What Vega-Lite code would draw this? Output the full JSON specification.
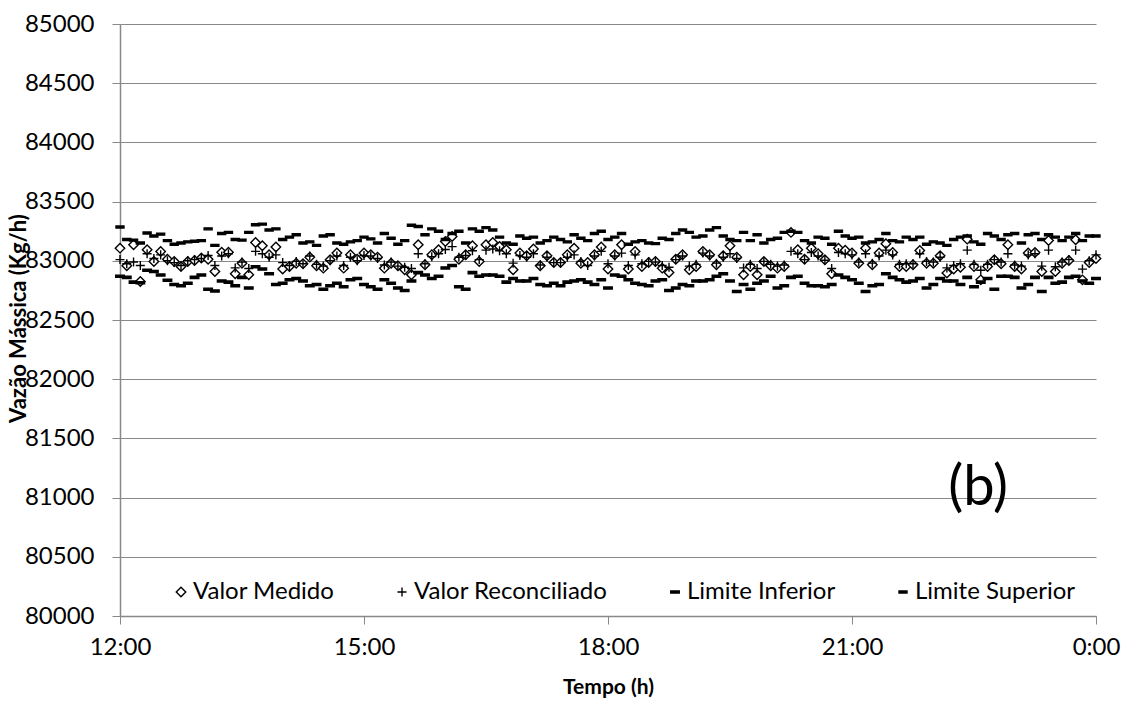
{
  "$schema": "https://vega.github.io/schema/vega-lite/v6.json",
  "width": 976,
  "height": 592,
  "autosize": {"type": "none"},
  "padding": {"left": 120, "top": 24, "right": 32, "bottom": 85},
  "background": "white",
  "config": {
    "font": "Lato",
    "view": {"stroke": null},
    "axis": {
      "labelFont": "Lato",
      "titleFont": "Lato",
      "labelColor": "black",
      "titleColor": "black",
      "labelFontSize": 24,
      "titleFontWeight": "bold",
      "domainColor": "#898989",
      "tickColor": "#898989",
      "gridColor": "#898989",
      "gridWidth": 1,
      "domainWidth": 1.5
    }
  },
  "layer": [
    {
      "data": {
        "values": [
          {"m": 0, "Valor Medido": 83107, "Valor Reconciliado": 83010, "Limite Inferior": 82870, "Limite Superior": 83285},
          {"m": 5, "Valor Medido": 82958, "Valor Reconciliado": 82975, "Limite Inferior": 82860, "Limite Superior": 83180},
          {"m": 10, "Valor Medido": 83135, "Valor Reconciliado": 82990, "Limite Inferior": 82820, "Limite Superior": 83175},
          {"m": 15, "Valor Medido": 82825, "Valor Reconciliado": 82960, "Limite Inferior": 82815, "Limite Superior": 83150},
          {"m": 20, "Valor Medido": 83093, "Valor Reconciliado": 83060, "Limite Inferior": 82920, "Limite Superior": 83235},
          {"m": 25, "Valor Medido": 82994, "Valor Reconciliado": 83020, "Limite Inferior": 82910, "Limite Superior": 83210},
          {"m": 30, "Valor Medido": 83079, "Valor Reconciliado": 83050, "Limite Inferior": 82880, "Limite Superior": 83225},
          {"m": 35, "Valor Medido": 83014, "Valor Reconciliado": 83000, "Limite Inferior": 82835, "Limite Superior": 83170},
          {"m": 40, "Valor Medido": 82994, "Valor Reconciliado": 82985, "Limite Inferior": 82800, "Limite Superior": 83140},
          {"m": 45, "Valor Medido": 82952, "Valor Reconciliado": 82960, "Limite Inferior": 82790, "Limite Superior": 83150},
          {"m": 50, "Valor Medido": 82994, "Valor Reconciliado": 83000, "Limite Inferior": 82810, "Limite Superior": 83160},
          {"m": 55, "Valor Medido": 83003, "Valor Reconciliado": 83010, "Limite Inferior": 82860, "Limite Superior": 83165},
          {"m": 60, "Valor Medido": 83023, "Valor Reconciliado": 83020, "Limite Inferior": 82880, "Limite Superior": 83170},
          {"m": 65, "Valor Medido": 83014, "Valor Reconciliado": 83045, "Limite Inferior": 82760, "Limite Superior": 83270},
          {"m": 70, "Valor Medido": 82910, "Valor Reconciliado": 82960, "Limite Inferior": 82745, "Limite Superior": 83130},
          {"m": 75, "Valor Medido": 83073, "Valor Reconciliado": 83040, "Limite Inferior": 82830, "Limite Superior": 83230},
          {"m": 80, "Valor Medido": 83073, "Valor Reconciliado": 83060, "Limite Inferior": 82820, "Limite Superior": 83240},
          {"m": 85, "Valor Medido": 82890, "Valor Reconciliado": 82940, "Limite Inferior": 82790, "Limite Superior": 83180},
          {"m": 90, "Valor Medido": 82980, "Valor Reconciliado": 82990, "Limite Inferior": 82860, "Limite Superior": 83175},
          {"m": 95, "Valor Medido": 82882, "Valor Reconciliado": 82935, "Limite Inferior": 82770, "Limite Superior": 83240},
          {"m": 100, "Valor Medido": 83155, "Valor Reconciliado": 83080, "Limite Inferior": 82950, "Limite Superior": 83305},
          {"m": 105, "Valor Medido": 83127, "Valor Reconciliado": 83060, "Limite Inferior": 82930, "Limite Superior": 83310},
          {"m": 110, "Valor Medido": 83051, "Valor Reconciliado": 83030, "Limite Inferior": 82890, "Limite Superior": 83260},
          {"m": 115, "Valor Medido": 83116, "Valor Reconciliado": 83050, "Limite Inferior": 82800, "Limite Superior": 83270},
          {"m": 120, "Valor Medido": 82930, "Valor Reconciliado": 82985, "Limite Inferior": 82810, "Limite Superior": 83180},
          {"m": 125, "Valor Medido": 82952, "Valor Reconciliado": 82960, "Limite Inferior": 82840, "Limite Superior": 83200},
          {"m": 130, "Valor Medido": 82980, "Valor Reconciliado": 82995, "Limite Inferior": 82850, "Limite Superior": 83220},
          {"m": 135, "Valor Medido": 82975, "Valor Reconciliado": 82975, "Limite Inferior": 82830, "Limite Superior": 83150},
          {"m": 140, "Valor Medido": 83031, "Valor Reconciliado": 83040, "Limite Inferior": 82790, "Limite Superior": 83160},
          {"m": 145, "Valor Medido": 82958, "Valor Reconciliado": 82970, "Limite Inferior": 82800, "Limite Superior": 83130},
          {"m": 150, "Valor Medido": 82938, "Valor Reconciliado": 82955, "Limite Inferior": 82760, "Limite Superior": 83210},
          {"m": 155, "Valor Medido": 83008, "Valor Reconciliado": 83000, "Limite Inferior": 82790, "Limite Superior": 83220},
          {"m": 160, "Valor Medido": 83065, "Valor Reconciliado": 83040, "Limite Inferior": 82810, "Limite Superior": 83150},
          {"m": 165, "Valor Medido": 82938, "Valor Reconciliado": 82960, "Limite Inferior": 82780, "Limite Superior": 83140},
          {"m": 170, "Valor Medido": 83051, "Valor Reconciliado": 83030, "Limite Inferior": 82840, "Limite Superior": 83160},
          {"m": 175, "Valor Medido": 83014, "Valor Reconciliado": 83000, "Limite Inferior": 82850, "Limite Superior": 83170},
          {"m": 180, "Valor Medido": 83065, "Valor Reconciliado": 83045, "Limite Inferior": 82800, "Limite Superior": 83200},
          {"m": 185, "Valor Medido": 83051, "Valor Reconciliado": 83040, "Limite Inferior": 82780, "Limite Superior": 83185},
          {"m": 190, "Valor Medido": 83031, "Valor Reconciliado": 83020, "Limite Inferior": 82760, "Limite Superior": 83150},
          {"m": 195, "Valor Medido": 82938, "Valor Reconciliado": 82965, "Limite Inferior": 82840, "Limite Superior": 83230},
          {"m": 200, "Valor Medido": 82980, "Valor Reconciliado": 82990, "Limite Inferior": 82810, "Limite Superior": 83190},
          {"m": 205, "Valor Medido": 82958, "Valor Reconciliado": 82955, "Limite Inferior": 82770, "Limite Superior": 83140},
          {"m": 210, "Valor Medido": 82924, "Valor Reconciliado": 82945, "Limite Inferior": 82750, "Limite Superior": 83170},
          {"m": 215, "Valor Medido": 82882, "Valor Reconciliado": 82935, "Limite Inferior": 82830, "Limite Superior": 83300},
          {"m": 220, "Valor Medido": 83135, "Valor Reconciliado": 83060, "Limite Inferior": 82900, "Limite Superior": 83290},
          {"m": 225, "Valor Medido": 82966, "Valor Reconciliado": 82975, "Limite Inferior": 82880, "Limite Superior": 83220},
          {"m": 230, "Valor Medido": 83051, "Valor Reconciliado": 83035, "Limite Inferior": 82850, "Limite Superior": 83270},
          {"m": 235, "Valor Medido": 83093, "Valor Reconciliado": 83060, "Limite Inferior": 82870, "Limite Superior": 83250},
          {"m": 240, "Valor Medido": 83163, "Valor Reconciliado": 83095, "Limite Inferior": 82940, "Limite Superior": 83180},
          {"m": 245, "Valor Medido": 83205, "Valor Reconciliado": 83120, "Limite Inferior": 82960, "Limite Superior": 83230},
          {"m": 250, "Valor Medido": 83014, "Valor Reconciliado": 83030, "Limite Inferior": 82780, "Limite Superior": 83250},
          {"m": 255, "Valor Medido": 83051, "Valor Reconciliado": 83045, "Limite Inferior": 82760, "Limite Superior": 83150},
          {"m": 260, "Valor Medido": 83127, "Valor Reconciliado": 83085, "Limite Inferior": 82900, "Limite Superior": 83270},
          {"m": 265, "Valor Medido": 82994, "Valor Reconciliado": 83010, "Limite Inferior": 82870, "Limite Superior": 83250},
          {"m": 270, "Valor Medido": 83135, "Valor Reconciliado": 83090, "Limite Inferior": 82880, "Limite Superior": 83280},
          {"m": 275, "Valor Medido": 83155, "Valor Reconciliado": 83100, "Limite Inferior": 82880, "Limite Superior": 83260},
          {"m": 280, "Valor Medido": 83121, "Valor Reconciliado": 83085, "Limite Inferior": 82870, "Limite Superior": 83200},
          {"m": 285, "Valor Medido": 83093, "Valor Reconciliado": 83060, "Limite Inferior": 82820, "Limite Superior": 83150},
          {"m": 290, "Valor Medido": 82924, "Valor Reconciliado": 82980, "Limite Inferior": 82850, "Limite Superior": 83140},
          {"m": 295, "Valor Medido": 83065, "Valor Reconciliado": 83045, "Limite Inferior": 82830, "Limite Superior": 83210},
          {"m": 300, "Valor Medido": 83042, "Valor Reconciliado": 83030, "Limite Inferior": 82830, "Limite Superior": 83190},
          {"m": 305, "Valor Medido": 83099, "Valor Reconciliado": 83060, "Limite Inferior": 82850, "Limite Superior": 83200},
          {"m": 310, "Valor Medido": 82958, "Valor Reconciliado": 82965, "Limite Inferior": 82800, "Limite Superior": 83150},
          {"m": 315, "Valor Medido": 83042, "Valor Reconciliado": 83030, "Limite Inferior": 82790, "Limite Superior": 83170},
          {"m": 320, "Valor Medido": 82986, "Valor Reconciliado": 82985, "Limite Inferior": 82810, "Limite Superior": 83200},
          {"m": 325, "Valor Medido": 82986, "Valor Reconciliado": 82985, "Limite Inferior": 82790, "Limite Superior": 83180},
          {"m": 330, "Valor Medido": 83051, "Valor Reconciliado": 83030, "Limite Inferior": 82820, "Limite Superior": 83160},
          {"m": 335, "Valor Medido": 83107, "Valor Reconciliado": 83050, "Limite Inferior": 82830, "Limite Superior": 83220},
          {"m": 340, "Valor Medido": 82980, "Valor Reconciliado": 82995, "Limite Inferior": 82840, "Limite Superior": 83190},
          {"m": 345, "Valor Medido": 82986, "Valor Reconciliado": 82960, "Limite Inferior": 82820, "Limite Superior": 83170},
          {"m": 350, "Valor Medido": 83051, "Valor Reconciliado": 83040, "Limite Inferior": 82800, "Limite Superior": 83230},
          {"m": 355, "Valor Medido": 83116, "Valor Reconciliado": 83080, "Limite Inferior": 82840, "Limite Superior": 83250},
          {"m": 360, "Valor Medido": 82930, "Valor Reconciliado": 82975, "Limite Inferior": 82770, "Limite Superior": 83180},
          {"m": 365, "Valor Medido": 83051, "Valor Reconciliado": 83040, "Limite Inferior": 82880, "Limite Superior": 83200},
          {"m": 370, "Valor Medido": 83135, "Valor Reconciliado": 83065, "Limite Inferior": 82870, "Limite Superior": 83230},
          {"m": 375, "Valor Medido": 82930, "Valor Reconciliado": 82960, "Limite Inferior": 82840, "Limite Superior": 83140},
          {"m": 380, "Valor Medido": 83079, "Valor Reconciliado": 83050, "Limite Inferior": 82810, "Limite Superior": 83160},
          {"m": 385, "Valor Medido": 82952, "Valor Reconciliado": 82975, "Limite Inferior": 82800, "Limite Superior": 83170},
          {"m": 390, "Valor Medido": 82986, "Valor Reconciliado": 82995, "Limite Inferior": 82790, "Limite Superior": 83150},
          {"m": 395, "Valor Medido": 82994, "Valor Reconciliado": 82990, "Limite Inferior": 82830, "Limite Superior": 83145},
          {"m": 400, "Valor Medido": 82938, "Valor Reconciliado": 82960, "Limite Inferior": 82840, "Limite Superior": 83190},
          {"m": 405, "Valor Medido": 82901, "Valor Reconciliado": 82945, "Limite Inferior": 82750, "Limite Superior": 83180},
          {"m": 410, "Valor Medido": 83014, "Valor Reconciliado": 83010, "Limite Inferior": 82770, "Limite Superior": 83230},
          {"m": 415, "Valor Medido": 83051, "Valor Reconciliado": 83040, "Limite Inferior": 82800, "Limite Superior": 83260},
          {"m": 420, "Valor Medido": 82924, "Valor Reconciliado": 82955, "Limite Inferior": 82790, "Limite Superior": 83240},
          {"m": 425, "Valor Medido": 82952, "Valor Reconciliado": 82970, "Limite Inferior": 82830, "Limite Superior": 83200},
          {"m": 430, "Valor Medido": 83079, "Valor Reconciliado": 83065, "Limite Inferior": 82830, "Limite Superior": 83210},
          {"m": 435, "Valor Medido": 83051, "Valor Reconciliado": 83040, "Limite Inferior": 82840, "Limite Superior": 83260},
          {"m": 440, "Valor Medido": 82966, "Valor Reconciliado": 82980, "Limite Inferior": 82870, "Limite Superior": 83280},
          {"m": 445, "Valor Medido": 83042, "Valor Reconciliado": 83030, "Limite Inferior": 82890, "Limite Superior": 83210},
          {"m": 450, "Valor Medido": 83127, "Valor Reconciliado": 83060, "Limite Inferior": 82830, "Limite Superior": 83180},
          {"m": 455, "Valor Medido": 83031, "Valor Reconciliado": 83020, "Limite Inferior": 82740, "Limite Superior": 83170},
          {"m": 460, "Valor Medido": 82882, "Valor Reconciliado": 82940, "Limite Inferior": 82800, "Limite Superior": 83240},
          {"m": 465, "Valor Medido": 82952, "Valor Reconciliado": 82970, "Limite Inferior": 82760, "Limite Superior": 83170},
          {"m": 470, "Valor Medido": 82882, "Valor Reconciliado": 82935, "Limite Inferior": 82810, "Limite Superior": 83220},
          {"m": 475, "Valor Medido": 82994, "Valor Reconciliado": 82995, "Limite Inferior": 82830, "Limite Superior": 83150},
          {"m": 480, "Valor Medido": 82958, "Valor Reconciliado": 82970, "Limite Inferior": 82870, "Limite Superior": 83180},
          {"m": 485, "Valor Medido": 82938, "Valor Reconciliado": 82955, "Limite Inferior": 82770, "Limite Superior": 83190},
          {"m": 490, "Valor Medido": 82952, "Valor Reconciliado": 82965, "Limite Inferior": 82790, "Limite Superior": 83240},
          {"m": 495, "Valor Medido": 83240, "Valor Reconciliado": 83080, "Limite Inferior": 82860, "Limite Superior": 83250},
          {"m": 500, "Valor Medido": 83093, "Valor Reconciliado": 83060, "Limite Inferior": 82870, "Limite Superior": 83240},
          {"m": 505, "Valor Medido": 83014, "Valor Reconciliado": 83010, "Limite Inferior": 82810, "Limite Superior": 83170},
          {"m": 510, "Valor Medido": 83107, "Valor Reconciliado": 83070, "Limite Inferior": 82790, "Limite Superior": 83150},
          {"m": 515, "Valor Medido": 83059, "Valor Reconciliado": 83040, "Limite Inferior": 82790, "Limite Superior": 83200},
          {"m": 520, "Valor Medido": 83008, "Valor Reconciliado": 83005, "Limite Inferior": 82780, "Limite Superior": 83190},
          {"m": 525, "Valor Medido": 82890, "Valor Reconciliado": 82935, "Limite Inferior": 82800, "Limite Superior": 83140},
          {"m": 530, "Valor Medido": 83107, "Valor Reconciliado": 83070, "Limite Inferior": 82880, "Limite Superior": 83250},
          {"m": 535, "Valor Medido": 83090, "Valor Reconciliado": 83060, "Limite Inferior": 82860, "Limite Superior": 83210},
          {"m": 540, "Valor Medido": 83065, "Valor Reconciliado": 83050, "Limite Inferior": 82840, "Limite Superior": 83190},
          {"m": 545, "Valor Medido": 82980, "Valor Reconciliado": 82990, "Limite Inferior": 82810, "Limite Superior": 83200},
          {"m": 550, "Valor Medido": 83107, "Valor Reconciliado": 83060, "Limite Inferior": 82740, "Limite Superior": 83150},
          {"m": 555, "Valor Medido": 82966, "Valor Reconciliado": 82980, "Limite Inferior": 82790, "Limite Superior": 83160},
          {"m": 560, "Valor Medido": 83065, "Valor Reconciliado": 83040, "Limite Inferior": 82800, "Limite Superior": 83180},
          {"m": 565, "Valor Medido": 83144, "Valor Reconciliado": 83090, "Limite Inferior": 82890, "Limite Superior": 83230},
          {"m": 570, "Valor Medido": 83070, "Valor Reconciliado": 83050, "Limite Inferior": 82860, "Limite Superior": 83170},
          {"m": 575, "Valor Medido": 82952, "Valor Reconciliado": 82970, "Limite Inferior": 82840, "Limite Superior": 83160},
          {"m": 580, "Valor Medido": 82952, "Valor Reconciliado": 82975, "Limite Inferior": 82820, "Limite Superior": 83200},
          {"m": 585, "Valor Medido": 82966, "Valor Reconciliado": 82975, "Limite Inferior": 82830, "Limite Superior": 83180},
          {"m": 590, "Valor Medido": 83087, "Valor Reconciliado": 83060, "Limite Inferior": 82850, "Limite Superior": 83200},
          {"m": 595, "Valor Medido": 82980, "Valor Reconciliado": 82995, "Limite Inferior": 82770, "Limite Superior": 83140},
          {"m": 600, "Valor Medido": 82980, "Valor Reconciliado": 82990, "Limite Inferior": 82800, "Limite Superior": 83160},
          {"m": 605, "Valor Medido": 83042, "Valor Reconciliado": 83030, "Limite Inferior": 82850, "Limite Superior": 83150},
          {"m": 610, "Valor Medido": 82896, "Valor Reconciliado": 82940, "Limite Inferior": 82830, "Limite Superior": 83130},
          {"m": 615, "Valor Medido": 82930, "Valor Reconciliado": 82960, "Limite Inferior": 82830, "Limite Superior": 83180},
          {"m": 620, "Valor Medido": 82946, "Valor Reconciliado": 82975, "Limite Inferior": 82800, "Limite Superior": 83200},
          {"m": 625, "Valor Medido": 83183, "Valor Reconciliado": 83090, "Limite Inferior": 82860, "Limite Superior": 83210},
          {"m": 630, "Valor Medido": 82952, "Valor Reconciliado": 82970, "Limite Inferior": 82780, "Limite Superior": 83160},
          {"m": 635, "Valor Medido": 82839, "Valor Reconciliado": 82920, "Limite Inferior": 82820, "Limite Superior": 83140},
          {"m": 640, "Valor Medido": 82952, "Valor Reconciliado": 82970, "Limite Inferior": 82850, "Limite Superior": 83230},
          {"m": 645, "Valor Medido": 83008, "Valor Reconciliado": 83010, "Limite Inferior": 82760, "Limite Superior": 83210},
          {"m": 650, "Valor Medido": 82975, "Valor Reconciliado": 82990, "Limite Inferior": 82870, "Limite Superior": 83180},
          {"m": 655, "Valor Medido": 83135, "Valor Reconciliado": 83060, "Limite Inferior": 82870, "Limite Superior": 83220},
          {"m": 660, "Valor Medido": 82952, "Valor Reconciliado": 82965, "Limite Inferior": 82860, "Limite Superior": 83230},
          {"m": 665, "Valor Medido": 82930, "Valor Reconciliado": 82955, "Limite Inferior": 82770, "Limite Superior": 83150},
          {"m": 670, "Valor Medido": 83065, "Valor Reconciliado": 83050, "Limite Inferior": 82800, "Limite Superior": 83220},
          {"m": 675, "Valor Medido": 83070, "Valor Reconciliado": 83060, "Limite Inferior": 82860, "Limite Superior": 83230},
          {"m": 680, "Valor Medido": 82910, "Valor Reconciliado": 82955, "Limite Inferior": 82740, "Limite Superior": 83180},
          {"m": 685, "Valor Medido": 83172, "Valor Reconciliado": 83090, "Limite Inferior": 82860, "Limite Superior": 83220},
          {"m": 690, "Valor Medido": 82910, "Valor Reconciliado": 82950, "Limite Inferior": 82810, "Limite Superior": 83200},
          {"m": 695, "Valor Medido": 82980, "Valor Reconciliado": 82990, "Limite Inferior": 82820, "Limite Superior": 83170},
          {"m": 700, "Valor Medido": 83003, "Valor Reconciliado": 83010, "Limite Inferior": 82860, "Limite Superior": 83200},
          {"m": 705, "Valor Medido": 83177, "Valor Reconciliado": 83090, "Limite Inferior": 82870, "Limite Superior": 83230},
          {"m": 710, "Valor Medido": 82839, "Valor Reconciliado": 82930, "Limite Inferior": 82830, "Limite Superior": 83170},
          {"m": 715, "Valor Medido": 82986, "Valor Reconciliado": 83000, "Limite Inferior": 82810, "Limite Superior": 83210},
          {"m": 720, "Valor Medido": 83020, "Valor Reconciliado": 83050, "Limite Inferior": 82850, "Limite Superior": 83210}
        ]
      },
      "transform": [
        {"fold": ["Valor Medido", "Valor Reconciliado", "Limite Inferior", "Limite Superior"], "as": ["serie", "vazao"]}
      ],
      "mark": {"type": "point", "filled": true, "stroke": "black", "opacity": 1},
      "encoding": {
        "x": {
          "field": "m",
          "type": "quantitative",
          "scale": {"domain": [0, 720], "nice": false, "zero": false},
          "axis": {
            "values": [0, 180, 360, 540, 720],
            "labelExpr": "['12:00', '15:00', '18:00', '21:00', '0:00'][round(datum.value / 180)]",
            "grid": false,
            "tickSize": 8,
            "labelPadding": 11,
            "labelFlush": false,
            "labelBound": false,
            "labelOverlap": false,
            "title": "Tempo (h)",
            "titleFontSize": 21,
            "titlePadding": 17
          }
        },
        "y": {
          "field": "vazao",
          "type": "quantitative",
          "scale": {"domain": [80000, 85000], "nice": false, "zero": false},
          "axis": {
            "values": [80000, 80500, 81000, 81500, 82000, 82500, 83000, 83500, 84000, 84500, 85000],
            "format": "d",
            "grid": true,
            "tickSize": 8,
            "labelPadding": 18,
            "title": "Vazão Mássica (Kg/h)",
            "titleFontSize": 22,
            "titleX": -102,
            "titleY": 294,
            "titleAlign": "center",
            "titleBaseline": "middle"
          }
        },
        "shape": {
          "field": "serie",
          "type": "nominal",
          "scale": {
            "domain": ["Valor Medido", "Valor Reconciliado", "Limite Inferior", "Limite Superior"],
            "range": ["diamond", "M-1,0H1M0,-1V1", "M-1,-0.25H1V0.25H-1Z", "M-1,-0.25H1V0.25H-1Z"]
          },
          "legend": {
            "title": null,
            "orient": "none",
            "legendX": 49,
            "legendY": 556,
            "direction": "horizontal",
            "columns": 4,
            "gridAlign": "each",
            "columnPadding": 55,
            "labelFont": "Lato",
            "labelFontSize": 24,
            "labelColor": "black",
            "labelOffset": 0,
            "labelLimit": 300,
            "symbolStrokeColor": "black",
            "symbolOpacity": 1
          }
        },
        "fill": {
          "field": "serie",
          "type": "nominal",
          "scale": {
            "domain": ["Valor Medido", "Valor Reconciliado", "Limite Inferior", "Limite Superior"],
            "range": ["white", "white", "black", "black"]
          },
          "legend": {"title": null}
        },
        "size": {
          "field": "serie",
          "type": "nominal",
          "scale": {
            "domain": ["Valor Medido", "Valor Reconciliado", "Limite Inferior", "Limite Superior"],
            "range": [90, 64, 144, 144]
          },
          "legend": {"title": null}
        },
        "strokeWidth": {
          "field": "serie",
          "type": "nominal",
          "scale": {
            "domain": ["Valor Medido", "Valor Reconciliado", "Limite Inferior", "Limite Superior"],
            "range": [1.4, 1.4, 0.6, 0.6]
          },
          "legend": {"title": null}
        }
      }
    },
    {
      "data": {"values": [{"rotulo": "(b)"}]},
      "mark": {"type": "text", "font": "Lato", "fontSize": 56, "align": "center", "baseline": "middle", "fill": "black"},
      "encoding": {
        "x": {"datum": 633, "type": "quantitative"},
        "y": {"datum": 81080, "type": "quantitative"},
        "text": {"field": "rotulo", "type": "nominal"}
      }
    }
  ]
}
